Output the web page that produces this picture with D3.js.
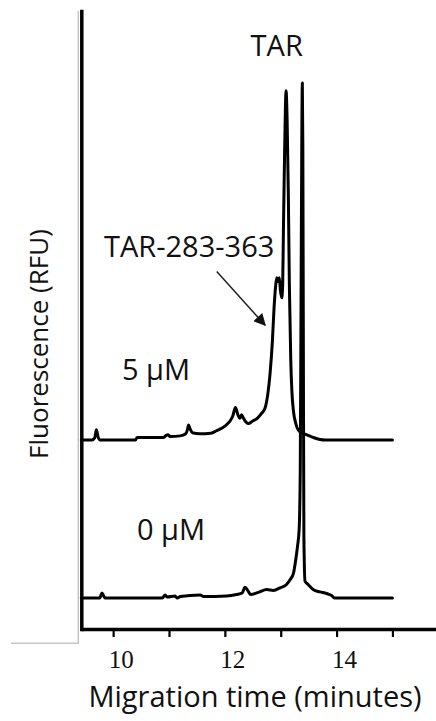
<!DOCTYPE html>
<html>
<head>
<meta charset="utf-8">
<script src="https://cdn.jsdelivr.net/npm/d3@7/dist/d3.min.js"></script>
<style>
  html, body { margin: 0; padding: 0; background: #fff; }
  svg { display: block; }
</style>
</head>
<body>
<svg id="chart" width="436" height="721"></svg>
<script>
// ---- data (migration time in minutes, fluorescence in arbitrary units relative to each trace's baseline)
const seriesNames = ["5 µM", "0 µM"];
const seriesOffsets = [30.7, 0];

const time5uM = [9.43, 9.62, 9.67, 9.70, 9.73, 9.76, 10.40, 10.43, 10.90, 10.95, 10.98, 11.02, 11.20, 11.30, 11.33, 11.35, 11.38, 11.42, 11.55, 11.75, 11.85, 12.00, 12.08, 12.14, 12.19, 12.23, 12.27, 12.30, 12.33, 12.37, 12.42, 12.50, 12.58, 12.66, 12.72, 12.77, 12.81, 12.85, 12.88, 12.91, 12.93, 12.95, 12.975, 12.995, 13.018, 13.035, 13.05, 13.07, 13.085, 13.095, 13.115, 13.136, 13.155, 13.18, 13.20, 13.226, 13.27, 13.315, 13.40, 13.47, 13.58, 13.70, 13.80, 15.00];
const signal5uM = [0, 0, 0.4, 2.0, 0.6, 0, 0, 0.5, 0.5, 0.9, 1.0, 0.7, 0.8, 1.2, 2.0, 2.9, 2.1, 1.4, 1.2, 1.3, 1.8, 2.7, 3.5, 4.6, 6.3, 5.0, 4.2, 4.9, 4.3, 3.6, 3.2, 3.7, 4.2, 5.2, 6.2, 9.0, 13.0, 19.0, 25.5, 30.0, 31.5, 30.8, 31.5, 29.0, 27.6, 30.0, 42.0, 56.0, 65.0, 67.8, 62.0, 48.0, 30.0, 15.5, 9.5, 5.8, 3.2, 1.9, 1.3, 1.0, 0.5, 0.1, 0, 0];

const time0uM = [9.43, 9.76, 9.78, 9.80, 9.83, 9.86, 10.88, 10.93, 10.97, 11.11, 11.15, 11.20, 11.56, 11.62, 12.03, 12.21, 12.31, 12.36, 12.42, 12.46, 12.60, 12.75, 12.87, 12.99, 13.10, 13.17, 13.23, 13.27, 13.30, 13.33, 13.35, 13.365, 13.378, 13.387, 13.396, 13.405, 13.415, 13.435, 13.495, 13.58, 13.70, 13.82, 13.91, 13.97, 15.00];
const signal0uM = [0, 0, 0.5, 1.0, 0.4, 0, 0, 0.6, 0.2, 0.4, 0, 0.3, 0.6, 0.3, 0.4, 0.7, 1.0, 2.1, 1.3, 0.7, 1.1, 1.65, 1.5, 2.0, 2.6, 3.6, 4.9, 7.5, 10.0, 13.3, 25, 60, 90, 100, 88, 50, 12, 3.3, 2.6, 1.65, 1.2, 0.9, 0.5, 0, 0];

const xTickValues = [10, 11, 12, 13, 14, 15];
const xTickLabels = ["10", "", "12", "", "14", ""];
const xDomain = [9.43, 15.78];
const yDomain = [-6, 114];

// annotation arrow in data coordinates [time, fluorescence]
const arrowStart = [11.855, 63.4];
const arrowEnd = [12.72, 53.0];

// ---- drawing
const svg = d3.select("#chart");
const x = d3.scaleLinear().domain(xDomain).range([81.3, 436]);
const y = d3.scaleLinear().domain(yDomain).range([629, 11]);

// faint frame line (picture border in reference)
svg.append("path")
  .attr("d", "M78.3,11 L78.3,643.3 L11,643.3")
  .attr("fill", "none").attr("stroke", "#c4c4c4").attr("stroke-width", 1.5);

const line = d3.line()
  .x(d => x(d[0]))
  .y(d => y(d[1]))
  .curve(d3.curveMonotoneX);

const traces = [
  d3.zip(time5uM, signal5uM).map(([t, v]) => [t, v + seriesOffsets[0]]),
  d3.zip(time0uM, signal0uM).map(([t, v]) => [t, v + seriesOffsets[1]])
];

svg.append("g").selectAll("path")
  .data(traces)
  .join("path")
  .attr("d", line)
  .attr("fill", "none")
  .attr("stroke", "#000")
  .attr("stroke-width", 3)
  .attr("stroke-linejoin", "round")
  .attr("stroke-linecap", "round");

// axes
const xAxis = d3.axisBottom(x)
  .tickValues(xTickValues)
  .tickFormat((d, i) => xTickLabels[i])
  .tickSizeInner(8)
  .tickSizeOuter(0);

const gx = svg.append("g").attr("transform", `translate(0,${y(yDomain[0])})`).call(xAxis);
gx.select(".domain").attr("stroke", "#000").attr("stroke-width", 3.5);
gx.selectAll(".tick line").attr("stroke", "#000").attr("stroke-width", 2.2);
gx.selectAll(".tick text")
  .attr("x", 7.5).attr("y", 39).attr("dy", 0)
  .attr("fill", "#111")
  .style("font-family", "'Liberation Serif', 'Times New Roman', serif")
  .style("font-size", "25px");

const yAxis = d3.axisLeft(y).tickValues([]).tickSizeOuter(0);
const gy = svg.append("g").attr("transform", `translate(${x(xDomain[0])},0)`).call(yAxis);
gy.select(".domain").attr("stroke", "#000").attr("stroke-width", 3.5).attr("stroke-linecap", "square");

// labels
const sans = "'Open Sans', 'Noto Sans', sans-serif";
function label(txt, px, py, anchor, size) {
  return svg.append("text").text(txt)
    .attr("x", px).attr("y", py)
    .attr("text-anchor", anchor)
    .attr("fill", "#111")
    .style("font-family", sans)
    .style("font-size", size + "px");
}
label("TAR", 276.7, 56, "middle", 29);
label("TAR-283-363", 104, 257, "start", 29);
label(seriesNames[0], 122, 380, "start", 29);
label(seriesNames[1], 137, 540, "start", 29);
label("Migration time (minutes)", 255, 707, "middle", 29);
svg.append("text").text("Fluorescence (RFU)")
  .attr("transform", "translate(48,344) rotate(-90)")
  .attr("text-anchor", "middle")
  .attr("fill", "#111")
  .style("font-family", sans)
  .style("font-size", "26px");

// arrow
const defs = svg.append("defs");
defs.append("marker")
  .attr("id", "arrowhead")
  .attr("viewBox", "0 0 10 10")
  .attr("refX", 9).attr("refY", 5)
  .attr("markerWidth", 10).attr("markerHeight", 10)
  .attr("markerUnits", "userSpaceOnUse")
  .attr("orient", "auto")
  .append("path").attr("d", "M0,0 L10,5 L0,10 Z").attr("fill", "#111");
defs.select("marker").attr("markerWidth", 16).attr("markerHeight", 12);

svg.append("line")
  .attr("x1", x(arrowStart[0])).attr("y1", y(arrowStart[1]))
  .attr("x2", x(arrowEnd[0])).attr("y2", y(arrowEnd[1]))
  .attr("stroke", "#222").attr("stroke-width", 1.5)
  .attr("marker-end", "url(#arrowhead)");
</script>
</body>
</html>
